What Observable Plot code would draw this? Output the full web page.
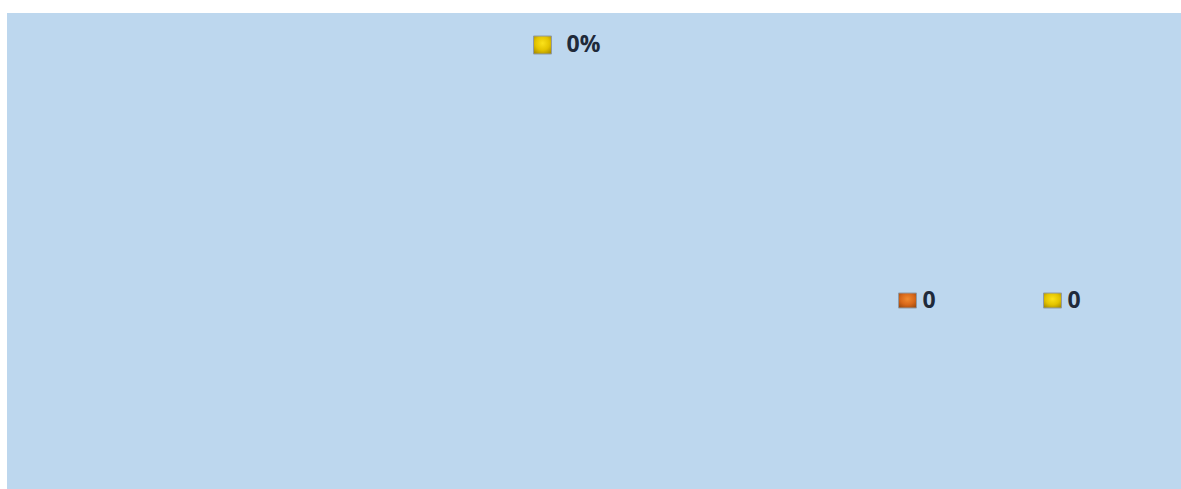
<!DOCTYPE html>
<html>
<head>
<meta charset="utf-8">
<script src="https://cdn.jsdelivr.net/npm/d3@7"></script>
<script src="https://cdn.jsdelivr.net/npm/@observablehq/plot@0.6"></script>
<style>
  html, body { margin: 0; padding: 0; background: #ffffff; }
  #chart { position: absolute; left: 7px; top: 13px; }
  #chart svg { display: block; }
</style>
</head>
<body>
<div id="chart"></div>
<script>
// ---- data ----
const totalLabel = ["Total"];
const totalPercent = [0];
const seriesNames = ["Series A", "Series B"];
const seriesValues = [0, 0];
const seriesGradients = ["gradOrange", "gradYellow"];

const totalData = totalLabel.map((k, i) => ({key: k, value: totalPercent[i]}));
const seriesData = seriesNames.map((n, i) => ({name: n, value: seriesValues[i], grad: seriesGradients[i]}));

// custom rectangular symbols (w x h)
function rectSymbol(w, h) {
  return {
    draw(context) {
      context.moveTo(-w / 2, -h / 2);
      context.lineTo(w / 2, -h / 2);
      context.lineTo(w / 2, h / 2);
      context.lineTo(-w / 2, h / 2);
      context.closePath();
    }
  };
}

const chart = Plot.plot({
  width: 1174,
  height: 476,
  margin: 0,
  style: {background: "#BDD7EE", fontFamily: "'Open Sans', sans-serif"},
  x: {type: "point", domain: seriesNames, range: [900, 1045], padding: 0, axis: null},
  y: {type: "point", domain: ["series"], range: [286.5, 286.5], padding: 0, axis: null},
  marks: [
    // total item (top)
    Plot.dot(totalData, {
      frameAnchor: "top-left", dx: 535, dy: 31.5,
      symbol: rectSymbol(18, 18), r: 1,
      fill: () => "url(#gradYellow)", stroke: "#8f9aa6", strokeWidth: 1
    }),
    Plot.text(totalData, {
      frameAnchor: "top-left", dx: 559, dy: 31.5,
      text: d => `${d.value}%`, textAnchor: "start", lineAnchor: "middle",
      fontSize: 23, fontWeight: "bold", fill: "#1f2a3a"
    }),
    // series items
    Plot.dot(seriesData, {
      x: "name", y: () => "series",
      symbol: rectSymbol(18, 15), r: 1,
      fill: d => `url(#${d.grad})`, stroke: "#8f9aa6", strokeWidth: 1
    }),
    Plot.text(seriesData, {
      x: "name", y: () => "series", dx: 15,
      text: d => `${d.value}`, textAnchor: "start", lineAnchor: "middle",
      fontSize: 23, fontWeight: "bold", fill: "#1f2a3a"
    })
  ]
});

// gradients
const svg = d3.select(chart);
const defs = svg.insert("defs", ":first-child");
function addGrad(id, light, mid, dark) {
  const g = defs.append("radialGradient").attr("id", id)
    .attr("cx", "50%").attr("cy", "40%").attr("r", "70%");
  g.append("stop").attr("offset", "0%").attr("stop-color", light);
  g.append("stop").attr("offset", "55%").attr("stop-color", mid);
  g.append("stop").attr("offset", "100%").attr("stop-color", dark);
}
addGrad("gradYellow", "#fbe21a", "#e4c400", "#a88c00");
addGrad("gradOrange", "#f08a30", "#d8681a", "#9c4a0e");

document.getElementById("chart").append(chart);
</script>
</body>
</html>
